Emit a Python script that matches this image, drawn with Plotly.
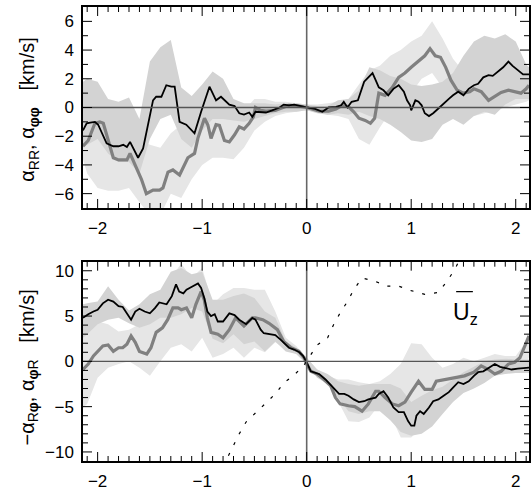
import plotly.graph_objects as go

# ---------------- data ----------------
# upper panel: alpha_RR (black) and alpha_phiphi (grey), km/s
top_black_x = [-2.14, -2.105, -2.07, -2.026, -1.995, -1.914, -1.85, -1.80, -1.755, -1.72, -1.69,
               -1.645, -1.613, -1.565, -1.52, -1.47, -1.44, -1.39, -1.343, -1.295, -1.263,
               -1.216, -1.152, -1.073, -1.01, -0.93, -0.867, -0.82, -0.74, -0.69, -0.645,
               -0.60, -0.55, -0.52, -0.49, -0.44, -0.39, -0.33, -0.26, -0.22, -0.17, -0.12,
               -0.07, 0.0, 0.08, 0.15, 0.21, 0.28, 0.33, 0.355, 0.39, 0.43, 0.49, 0.52, 0.55,
               0.59, 0.63, 0.66, 0.69, 0.735, 0.78, 0.83, 0.88, 0.93, 0.96, 0.99, 1.0, 1.04,
               1.07, 1.10, 1.13, 1.17, 1.21, 1.26, 1.31, 1.36, 1.40, 1.45, 1.50, 1.55, 1.60,
               1.64, 1.69, 1.74, 1.78, 1.83, 1.88, 1.93, 1.97, 2.02, 2.07, 2.127]
top_black_y = [-1.6, -1.1, -1.05, -1.0, -1.2, -2.5, -2.7, -2.7, -2.6, -2.75, -2.4,
               -3.1, -3.5, -2.85, -1.2, 0.5, 0.75, 0.75, 1.55, 1.45, 1.45,
               -1.0, -1.2, -1.8, -0.3, 1.45, 0.5, 0.75, 0.2, 0.1, -0.4,
               -0.5, -0.35, -0.65, -0.3, -0.3, -0.35, -0.2, 0.0, 0.2, 0.15, 0.2,
               0.1, 0.0, -0.1, -0.3, 0.0, 0.05, 0.15, 0.4, 0.0, 0.4, 0.5, 1.1, 1.8,
               2.1, 2.4, 1.9, 1.4, 1.2, 0.85, 1.3, 1.55, 1.1, 0.5, 0.15, -0.2, 0.5,
               0.4, 0.15, -0.4, -0.6, -0.4, -0.07, 0.3, 0.6, 0.85, 1.1, 0.85, 1.3, 1.55,
               1.65, 2.1, 2.25, 2.2, 2.5, 2.8, 3.2, 2.9, 2.6, 2.3, 2.3]

top_grey_x = [-2.14, -2.09, -2.026, -1.98, -1.946, -1.882, -1.85, -1.80, -1.72, -1.69, -1.645,
              -1.581, -1.534, -1.47, -1.407, -1.375, -1.327, -1.28, -1.216, -1.137, -1.073,
              -1.041, -0.978, -0.946, -0.915, -0.867, -0.835, -0.787, -0.74, -0.69, -0.645,
              -0.60, -0.55, -0.51, -0.49, -0.44, -0.39, -0.30, -0.17, -0.07, 0.0, 0.12,
              0.21, 0.28, 0.34, 0.40, 0.45, 0.50, 0.56, 0.61, 0.65, 0.69, 0.75, 0.82, 0.88,
              0.94, 1.0, 1.07, 1.13, 1.18, 1.23, 1.28, 1.33, 1.38, 1.44, 1.50, 1.56, 1.60,
              1.67, 1.74, 1.80, 1.86, 1.93, 1.99, 2.05, 2.10, 2.127]
top_grey_y = [-2.7, -2.3, -1.1, -1.0, -1.1, -2.6, -3.5, -3.65, -3.65, -3.2, -4.0,
              -5.0, -6.0, -5.75, -5.75, -5.6, -4.5, -4.35, -4.7, -3.5, -3.2,
              -2.15, -0.75, -1.2, -2.15, -1.2, -1.25, -2.3, -2.4, -1.9, -1.35,
              -1.5, -1.1, -0.65, 0.0, -0.2, -0.25, -0.2, 0.15, 0.1, 0.0, -0.25,
              -0.25, -0.1, 0.15, 0.05, -0.3, -0.75, -0.9, -1.1, -0.75, 1.0, 0.85, 1.4, 2.1,
              2.4, 2.8, 3.2, 3.6, 4.1, 3.6, 3.5, 2.8, 1.9, 1.2, 1.0, 1.1, 1.3,
              1.1, 0.5, 0.75, 1.05, 1.2, 1.1, 1.0, 1.3, 1.55]

# lower panel: -alpha_Rphi (black), alpha_phiR (grey), km/s
bot_black_x = [-2.14, -2.09, -2.04, -2.0, -1.95, -1.9, -1.85, -1.8, -1.76, -1.71, -1.68,
               -1.64, -1.6, -1.55, -1.5, -1.45, -1.41, -1.34, -1.29, -1.25, -1.22, -1.18,
               -1.15, -1.12, -1.09, -1.04, -1.01, -0.98, -0.95, -0.915, -0.88, -0.85, -0.8,
               -0.74, -0.69, -0.645, -0.58, -0.55, -0.52, -0.49, -0.44, -0.41, -0.36, -0.30,
               -0.25, -0.20, -0.17, -0.12, -0.07, -0.035, 0.0, 0.04, 0.12, 0.18, 0.24, 0.31,
               0.36, 0.40, 0.45, 0.50, 0.55, 0.59, 0.66, 0.69, 0.735, 0.78, 0.83, 0.88, 0.93,
               0.97, 1.0, 1.03, 1.05, 1.085, 1.12, 1.17, 1.21, 1.26, 1.31, 1.36, 1.40, 1.45,
               1.50, 1.55, 1.60, 1.64, 1.69, 1.74, 1.80, 1.85, 1.90, 1.96, 2.02, 2.127]
bot_black_y = [4.8, 5.2, 5.5, 5.7, 6.4, 6.8, 6.6, 6.1, 6.0, 5.2, 4.6,
               5.5, 5.8, 5.5, 5.3, 5.9, 6.5, 6.3, 7.2, 8.5, 7.7, 7.5,
               7.9, 8.1, 8.3, 8.6, 8.1, 7.0, 5.5, 5.0, 5.2, 4.4, 4.4,
               5.3, 5.1, 4.6, 4.1, 4.4, 4.8, 4.6, 3.5, 3.1, 3.0, 2.9,
               2.4, 1.9, 1.5, 1.3, 1.0, 0.6, -0.1, -1.1, -1.4, -2.0, -2.7, -3.6,
               -3.6, -3.8, -4.2, -4.5, -4.4, -4.2, -4.0, -3.6, -3.3, -4.0, -5.1, -5.6, -5.6,
               -6.6, -7.1, -7.1, -6.0, -5.5, -5.8, -5.1, -4.4, -4.2, -3.8, -3.4, -2.9, -2.3,
               -2.5, -2.2, -1.6, -1.2, -1.1, -0.7, -0.3, -0.6, -0.7, -0.9, -0.8, -0.7]

bot_grey_x = [-2.14, -2.09, -2.04, -2.0, -1.95, -1.9, -1.85, -1.8, -1.76, -1.72, -1.68,
              -1.64, -1.6, -1.53, -1.49, -1.44, -1.38, -1.33, -1.28, -1.23, -1.2, -1.15,
              -1.1, -1.06, -1.01, -0.98, -0.95, -0.915, -0.85, -0.8, -0.755, -0.74, -0.68,
              -0.6, -0.52, -0.49, -0.42, -0.36, -0.28, -0.22, -0.15, -0.074, -0.025, 0.0,
              0.04, 0.1, 0.165, 0.23, 0.275, 0.32, 0.40, 0.46, 0.53, 0.59, 0.66, 0.69, 0.75,
              0.82, 0.88, 0.94, 1.0, 1.07, 1.13, 1.2, 1.24, 1.32, 1.42, 1.51, 1.6, 1.67,
              1.74, 1.8, 1.86, 1.93, 1.99, 2.04, 2.08, 2.127]
bot_grey_y = [-0.9, -0.3, 0.6, 1.1, 1.7, 1.8, 1.1, 1.5, 1.5, 1.9, 2.8,
              2.1, 1.1, 0.8, 1.5, 3.2, 3.7, 4.6, 5.9, 5.9, 5.7, 5.9,
              4.8, 6.3, 7.7, 6.8, 4.8, 3.2, 3.0, 2.6, 3.3, 3.5, 4.8,
              3.9, 4.8, 4.8, 4.6, 4.2, 3.5, 2.2, 1.5, 1.1, 0.4, -0.3,
              -1.1, -1.4, -2.0, -2.7, -4.0, -4.7, -4.9, -5.0, -5.5, -4.7, -3.3, -3.3, -4.0,
              -4.7, -4.9, -4.5, -3.4, -2.2, -3.1, -3.1, -2.2, -2.0, -1.8, -1.6, -1.2, -0.5,
              -0.9, -1.4, -1.1, -0.3, -0.1, 0.4, 1.5, 2.8]

# mean vertical velocity profile, U_z
uz_x = [-0.80, -0.71, -0.645, -0.58, -0.49, -0.39, -0.30, -0.22, -0.12, -0.03, 0.10,
        0.20, 0.26, 0.32, 0.39, 0.45, 0.53, 0.64, 0.77, 0.88, 1.0, 1.13, 1.26, 1.34,
        1.42, 1.47]
uz_y = [-11.6, -9.5, -8.0, -6.7, -5.7, -4.7, -3.6, -2.4, -1.5, -0.5, 1.8,
        2.6, 4.1, 5.35, 6.6, 7.9, 9.2, 8.9, 8.3, 8.3, 7.8, 7.4, 7.6, 8.8,
        10.2, 11.4]

# error ranges on a common grid
band_x = [-2.14, -2.1, -2.0, -1.9, -1.8, -1.7, -1.6, -1.5, -1.4, -1.3, -1.2, -1.1, -1.0,
          -0.9, -0.8, -0.7, -0.6, -0.5, -0.4, -0.3, -0.2, -0.1, 0.0, 0.1, 0.2, 0.3, 0.4,
          0.5, 0.6, 0.7, 0.8, 0.9, 1.0, 1.1, 1.2, 1.3, 1.4, 1.5, 1.6, 1.7, 1.8, 1.9, 2.0,
          2.1, 2.127]

top_black_hi = [1.8, 2.0, 1.8, 0.6, 0.4, 0.7, -0.8, 3.2, 4.2, 4.7, 1.4, 0.8, 1.6,
                2.5, 2.0, 0.6, 0.3, 0.3, 0.3, 0.2, 0.3, 0.3, 0.2, 0.1, 0.1, 0.5, 0.6,
                1.2, 2.8, 2.6, 2.2, 2.0, 1.6, 1.5, 1.6, 1.8, 2.4, 3.6, 4.6, 5.0, 4.8, 5.1, 4.6,
                3.0, 2.8]
top_black_lo = [-2.8, -2.6, -2.2, -3.2, -3.8, -3.8, -4.6, -2.2, -0.8, -0.5, -2.2, -2.8, -1.6,
                -0.8, -0.8, -0.9, -1.0, -0.8, -0.6, -0.4, -0.3, -0.3, -0.2, -0.4, -0.5, -0.4, -0.5,
                -0.3, -0.6, -0.8, -1.2, -1.7, -2.3, -2.4, -2.2, -1.2, -0.8, -1.2, -0.6, -0.3, -0.5,
                0.2, 0.6, 0.6, 0.6]
top_grey_hi = [0.2, 0.4, 0.5, -0.5, -0.8, -0.5, -2.2, -2.6, -2.8, -1.8, -1.2, -0.5, 0.2,
               0.8, 0.6, -0.4, -0.2, 0.6, 0.6, 0.4, 0.4, 0.3, 0.2, 0.2, 0.3, 0.4, 0.6,
               1.6, 2.6, 2.9, 3.6, 4.0, 4.6, 5.0, 6.0, 4.8, 3.4, 2.5, 2.2, 2.2, 2.2, 2.3, 2.4,
               2.5, 2.4]
top_grey_lo = [-3.6, -4.6, -5.6, -5.8, -5.8, -5.6, -6.6, -7.5, -7.5, -6.0, -6.3, -5.0, -4.0,
               -3.5, -3.5, -3.6, -2.8, -1.6, -1.0, -0.6, -0.4, -0.3, -0.2, -0.3, -0.5, -0.6, -0.8,
               -2.2, -2.6, -1.4, -0.3, 0.4, 1.0, 2.0, 2.4, 1.4, 0.2, -0.4, -0.6, -0.4, -0.2,
               0.0, 0.2, 0.4, 0.5]

bot_black_hi = [6.3, 6.4, 6.6, 8.3, 6.8, 5.6, 6.3, 7.4, 7.9, 9.9, 10.3, 9.6, 9.9,
                6.8, 6.8, 7.2, 7.5, 7.0, 5.5, 4.8, 2.2, 1.5, 0.4, -0.9, -1.4, -2.2, -2.5,
                -2.7, -2.5, -2.5, -2.5, -3.0, -4.5, -3.8, -3.2, -2.8, -2.0, -1.2, -0.6, 0.0,
                0.2, 0.3, 0.2, 0.2, 0.2]
bot_black_lo = [2.6, 3.0, 4.1, 4.6, 4.8, 4.2, 3.7, 4.1, 4.8, 4.8, 5.2, 5.9, 5.5,
                2.5, 2.0, 3.0, 1.9, 2.2, 1.1, 2.2, 1.1, 0.8, -0.3, -1.8, -2.5, -4.0, -5.5,
                -5.8, -5.5, -5.5, -6.5, -7.8, -8.2, -8.0, -7.2, -5.8, -4.5, -3.5, -3.0, -2.4,
                -1.6, -1.4, -1.3, -1.3, -1.3]
bot_grey_hi = [4.4, 4.4, 4.4, 4.1, 3.3, 3.5, 4.1, 5.9, 7.4, 9.2, 10.8, 9.2, 10.3,
               6.3, 7.4, 8.1, 8.1, 7.9, 7.9, 5.5, 2.6, 1.7, 0.4, -0.9, -1.6, -2.0, -2.0,
               -2.3, -2.5, -2.2, -1.4, -0.3, 2.0, 1.9, 0.4, -0.7, -0.3, 0.4, 0.0, 0.4,
               0.8, 0.6, 0.6, 2.2, 3.0]
bot_grey_lo = [-5.1, -4.7, -1.8, -0.7, -0.3, 0.0, -0.7, -1.6, 0.0, 1.5, 1.9, 1.1, 2.6,
               0.4, 0.8, 1.5, 0.4, 1.5, 1.0, 2.1, 1.3, 0.8, -0.3, -1.8, -2.2, -4.4, -6.6,
               -6.7, -6.2, -4.7, -5.8, -8.4, -8.4, -7.3, -5.1, -4.0, -3.3, -2.9, -2.5, -2.2,
               -1.4, -1.1, -0.7, -0.3, 0.5]

x_tick_step, x_minor_step = 1, 0.1
top_ytick_step, bot_ytick_step, y_minor_step = 2, 5, 1

top_title = "α<sub>RR</sub>, α<sub><b>φφ</b></sub>\u00a0\u00a0\u00a0[km/s]"
bot_title = "−α<sub>R<b>φ</b></sub>, α<sub><b>φ</b>R</sub>\u00a0\u00a0\u00a0[km/s]"
uz_label = "U<sub>z</sub>"
uz_label_pos = (1.52, 5.3)

# ---------------- styles ----------------
FONT = "Liberation Sans, Arial, Helvetica, sans-serif"
LIGHT = "#e6e6e6"
DARK = "#d3d3d3"
GREY_LINE = "#808080"
XR = [-2.14, 2.127]
TOP_YR = [-7, 7]
BOT_YR = [-11, 11]
MAJOR_LEN, MINOR_LEN = 9, 5


def band(x, lo, hi, color, xa, ya):
    return go.Scatter(x=list(x) + list(x)[::-1], y=list(hi) + list(lo)[::-1],
                      fill="toself", fillcolor=color, mode="none",
                      hoverinfo="skip", showlegend=False, xaxis=xa, yaxis=ya)


def line(x, y, color, width, xa, ya, dash="solid"):
    return go.Scatter(x=x, y=y, mode="lines", line=dict(color=color, width=width, dash=dash),
                      showlegend=False, xaxis=xa, yaxis=ya)


fig = go.Figure()
# upper panel
fig.add_trace(band(band_x, top_grey_lo, top_grey_hi, LIGHT, "x", "y"))
fig.add_trace(band(band_x, top_black_lo, top_black_hi, DARK, "x", "y"))
fig.add_trace(line(top_grey_x, top_grey_y, GREY_LINE, 3.2, "x", "y"))
fig.add_trace(line(top_black_x, top_black_y, "black", 1.8, "x", "y"))
# lower panel
fig.add_trace(band(band_x, bot_grey_lo, bot_grey_hi, LIGHT, "x2", "y2"))
fig.add_trace(band(band_x, bot_black_lo, bot_black_hi, DARK, "x2", "y2"))
fig.add_trace(line(bot_grey_x, bot_grey_y, GREY_LINE, 3.2, "x2", "y2"))
fig.add_trace(line(bot_black_x, bot_black_y, "black", 1.8, "x2", "y2"))
fig.add_trace(line(uz_x, uz_y, "black", 1.2, "x2", "y2", dash="3px,9px"))


def tick_values(rng, step):
    n0 = int(rng[0] / step) - 1
    n1 = int(rng[1] / step) + 1
    vals = [round(k * step, 6) for k in range(n0, n1 + 1)]
    return [v for v in vals if rng[0] < v < rng[1]]


def tick_marks(xa, ya, xr, yr, ystep):
    # inward tick marks on all four sides of one panel
    marks = []
    tick_line = dict(color="black", width=1)
    for v in tick_values(xr, x_minor_step):
        n = MAJOR_LEN if abs(v / x_tick_step - round(v / x_tick_step)) < 1e-6 else MINOR_LEN
        for side, sign in ((0, 1), (1, -1)):
            marks.append(dict(type="line", xref=xa, yref=f"{ya} domain", x0=v, x1=v,
                              ysizemode="pixel", yanchor=side, y0=0, y1=sign * n,
                              layer="above", line=tick_line))
    for v in tick_values(yr, y_minor_step):
        n = MAJOR_LEN if abs(v / ystep - round(v / ystep)) < 1e-6 else MINOR_LEN
        for side, sign in ((0, 1), (1, -1)):
            marks.append(dict(type="line", xref=f"{xa} domain", yref=ya, y0=v, y1=v,
                              xsizemode="pixel", xanchor=side, x0=0, x1=sign * n,
                              layer="above", line=tick_line))
    return marks


def zero_lines(xa, ya):
    # reference lines at x = 0 and y = 0, drawn over the shaded ranges
    return [
        dict(type="line", xref=f"{xa} domain", yref=ya, x0=0, x1=1, y0=0, y1=0,
             layer="above", line=dict(color="#555555", width=1.3)),
        dict(type="line", xref=xa, yref=f"{ya} domain", x0=0, x1=0, y0=0, y1=1,
             layer="above", line=dict(color="#666666", width=1.6)),
    ]


axis_base = dict(tickmode="linear", tick0=0, ticks="", showline=True, linecolor="black",
                 linewidth=1.5, mirror=True, showgrid=False, zeroline=False,
                 ticklabelstandoff=4, tickfont=dict(family=FONT, size=17, color="black"))

fig.update_layout(
    width=531, height=491,
    margin=dict(l=83, r=0, t=7, b=30),
    paper_bgcolor="white", plot_bgcolor="white",
    font=dict(family=FONT, size=17, color="black"),
    xaxis=dict(**axis_base, range=XR, dtick=x_tick_step, anchor="y", domain=[0, 1]),
    yaxis=dict(**axis_base, range=TOP_YR, dtick=top_ytick_step, anchor="x",
               domain=[0.5573, 1]),
    xaxis2=dict(**axis_base, range=XR, dtick=x_tick_step, anchor="y2", domain=[0, 1]),
    yaxis2=dict(**axis_base, range=BOT_YR, dtick=bot_ytick_step, anchor="x2",
                domain=[0, 0.439]),
    annotations=[
        dict(text=top_title, xref="paper", yref="paper", x=-0.122, y=0.775, textangle=-90,
             showarrow=False, xanchor="center", yanchor="middle",
             font=dict(family=FONT, size=20, color="black")),
        dict(text=bot_title, xref="paper", yref="paper", x=-0.122, y=0.205, textangle=-90,
             showarrow=False, xanchor="center", yanchor="middle",
             font=dict(family=FONT, size=20, color="black")),
        dict(text=uz_label, xref="x2", yref="y2", x=uz_label_pos[0], y=uz_label_pos[1],
             showarrow=False, xanchor="center", yanchor="middle",
             font=dict(family=FONT, size=23, color="black")),
    ],
    shapes=zero_lines("x", "y") + zero_lines("x2", "y2")
    + tick_marks("x", "y", XR, TOP_YR, top_ytick_step)
    + tick_marks("x2", "y2", XR, BOT_YR, bot_ytick_step)
    + [dict(type="line", xref="x2", yref="y2",
            x0=uz_label_pos[0] - 0.09, x1=uz_label_pos[0] + 0.07,
            y0=uz_label_pos[1] + 2.4, y1=uz_label_pos[1] + 2.4,
            line=dict(color="black", width=1.2))],
)

fig.write_html("out.html")
